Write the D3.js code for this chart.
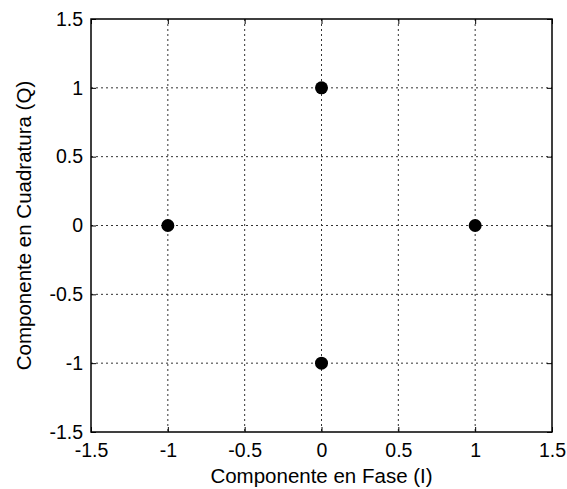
<!DOCTYPE html>
<html>
<head>
<meta charset="utf-8">
<script src="https://cdn.jsdelivr.net/npm/d3@7"></script>
<style>
  body { margin: 0; background: #fff; }
  svg text { font-family: "Liberation Sans", Arial, sans-serif; fill: #000; }
</style>
</head>
<body>
<div id="chart"></div>
<script>
// constellation points (I, Q)
var pointsI = [0, -1, 1, 0];
var pointsQ = [1, 0, 0, -1];
var tickValues = [-1.5, -1, -0.5, 0, 0.5, 1, 1.5];
var tickLabels = ["-1.5", "-1", "-0.5", "0", "0.5", "1", "1.5"];
var xTitle = "Componente en Fase (I)";
var yTitle = "Componente en Cuadratura (Q)";

var W = 567, H = 489;
var margin = {top: 19, right: 15, bottom: 57, left: 91};
var width = W - margin.left - margin.right;
var height = H - margin.top - margin.bottom;

var svg = d3.select("#chart").append("svg")
    .attr("width", W)
    .attr("height", H);

var g = svg.append("g")
    .attr("transform", "translate(" + margin.left + "," + margin.top + ")");

var x = d3.scaleLinear().domain([-1.5, 1.5]).range([0, width]);
var y = d3.scaleLinear().domain([-1.5, 1.5]).range([height, 0]);

// grid (dotted)
g.append("g").selectAll("line")
    .data(tickValues.slice(1, -1))
    .enter().append("line")
    .attr("x1", function(d) { return x(d); })
    .attr("x2", function(d) { return x(d); })
    .attr("y1", 0).attr("y2", height)
    .attr("stroke", "#333").attr("stroke-width", 1)
    .attr("stroke-dasharray", "2,3");
g.append("g").selectAll("line")
    .data(tickValues.slice(1, -1))
    .enter().append("line")
    .attr("y1", function(d) { return y(d); })
    .attr("y2", function(d) { return y(d); })
    .attr("x1", 0).attr("x2", width)
    .attr("stroke", "#333").attr("stroke-width", 1)
    .attr("stroke-dasharray", "2,3");

// axes: inward ticks on all four sides
var fmt = function(d) { return tickLabels[tickValues.indexOf(d)]; };
var tickFont = "19.5px";
var titleFont = "20.5px";

var xb = g.append("g").attr("transform", "translate(0," + height + ")")
    .call(d3.axisBottom(x).tickValues(tickValues).tickFormat(fmt).tickSizeInner(-5).tickSizeOuter(0).tickPadding(11));
var xt = g.append("g")
    .call(d3.axisTop(x).tickValues(tickValues).tickFormat("").tickSizeInner(-5).tickSizeOuter(0));
var yl = g.append("g")
    .call(d3.axisLeft(y).tickValues(tickValues).tickFormat(fmt).tickSizeInner(-5).tickSizeOuter(0).tickPadding(8));
var yr = g.append("g").attr("transform", "translate(" + width + ",0)")
    .call(d3.axisRight(y).tickValues(tickValues).tickFormat("").tickSizeInner(-5).tickSizeOuter(0));

[xb, xt, yl, yr].forEach(function(a) {
    a.select(".domain").remove();
    a.selectAll("line").attr("stroke", "#000");
    a.selectAll("text").style("font-size", tickFont).style("font-family", "'Liberation Sans', Arial, sans-serif");
});

// frame
g.append("rect")
    .attr("x", 0).attr("y", 0)
    .attr("width", width).attr("height", height)
    .attr("fill", "none").attr("stroke", "#000").attr("stroke-width", 1.5);

// points
g.selectAll("circle.pt")
    .data(pointsI)
    .enter().append("circle")
    .attr("class", "pt")
    .attr("cx", function(d) { return x(d); })
    .attr("cy", function(d, i) { return y(pointsQ[i]); })
    .attr("r", 6.5)
    .attr("fill", "#000");

// titles
svg.append("text")
    .attr("x", margin.left + width / 2)
    .attr("y", 483)
    .attr("text-anchor", "middle")
    .style("font-size", titleFont)
    .text(xTitle);

svg.append("text")
    .attr("transform", "translate(31," + (margin.top + height / 2) + ") rotate(-90)")
    .attr("text-anchor", "middle")
    .style("font-size", titleFont)
    .text(yTitle);
</script>
</body>
</html>
